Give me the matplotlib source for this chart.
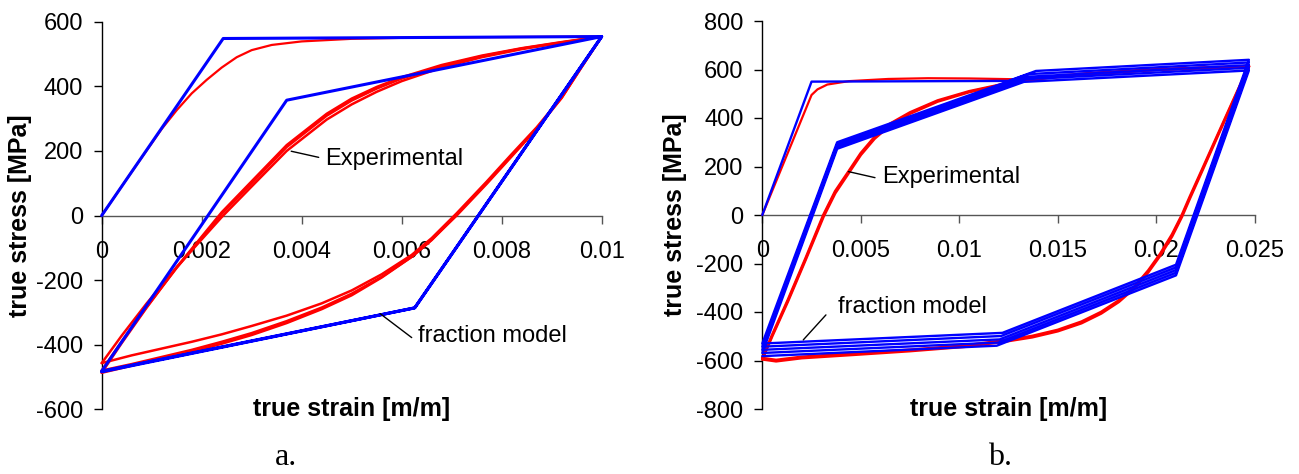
import matplotlib
matplotlib.use("Agg")
import matplotlib.pyplot as plt

plt.rcParams['font.family'] = ['Liberation Sans', 'DejaVu Sans']
plt.rcParams['axes.unicode_minus'] = False

# ---------------- Panel a data ----------------
a_x_ticks = [0, 0.002, 0.004, 0.006, 0.008, 0.01]
a_x_labels = ["0", "0.002", "0.004", "0.006", "0.008", "0.01"]
a_y_ticks = [-600, -400, -200, 0, 200, 400, 600]
a_y_labels = ["-600", "-400", "-200", "0", "200", "400", "600"]

# fraction model (blue) path vertices
a_model_strain = [0, 0.00243, 0.01, 0.00626, 0, 0.0037, 0.01, 0.00626, 0]
a_model_stress = [0, 548, 554, -286, -482, 357, 554, -286, -484]

# experimental (red) curves
a_exp_load_strain = [0, 0.0006, 0.0012, 0.0015, 0.0018, 0.0021, 0.0024, 0.0027, 0.003, 0.0034,
                     0.004, 0.005, 0.006, 0.0075, 0.01]
a_exp_load_stress = [0, 135, 268, 326, 378, 420, 458, 490, 512, 528,
                     539, 547, 550, 552, 554]

a_exp_unload_strain = [0.01, 0.0096, 0.0092, 0.0087, 0.0082, 0.0077, 0.0071, 0.0066, 0.0062, 0.0056,
                       0.005, 0.0044, 0.0037, 0.003, 0.0024, 0.0018, 0.0012, 0.0006, 0]
a_exp_unload1_stress = [554, 462, 367, 273, 190, 105, 7, -70, -122, -182,
                        -232, -272, -310, -342, -368, -391, -412, -433, -457]
a_exp_unload2_stress = [554, 460, 365, 270, 186, 101, 3, -76, -128, -190,
                        -242, -285, -327, -364, -391, -416, -438, -460, -480]
a_exp_unload3_stress = [554, 460, 364, 268, 183, 98, 0, -75, -128, -192,
                        -247, -290, -333, -370, -397, -422, -444, -465, -487]

a_exp_reload_strain = [0, 0.0004, 0.0009, 0.0015, 0.0024, 0.003, 0.0037, 0.0045, 0.005, 0.0055,
                       0.006, 0.0068, 0.0076, 0.0084, 0.0092, 0.01]
a_exp_reload1_stress = [-457, -372, -272, -160, -5, 90, 200, 297, 344, 383,
                        416, 458, 490, 515, 535, 554]
a_exp_reload2_stress = [-480, -390, -283, -162, 5, 100, 212, 309, 356, 393,
                        424, 463, 493, 517, 536, 554]
a_exp_reload3_stress = [-487, -395, -285, -160, 10, 106, 218, 315, 362, 398,
                        428, 466, 495, 518, 537, 554]

# ---------------- Panel b data ----------------
b_x_ticks = [0, 0.005, 0.01, 0.015, 0.02, 0.025]
b_x_labels = ["0", "0.005", "0.01", "0.015", "0.02", "0.025"]
b_y_ticks = [-800, -600, -400, -200, 0, 200, 400, 600, 800]
b_y_labels = ["-800", "-600", "-400", "-200", "0", "200", "400", "600", "800"]

b_model_strain = [0, 0.0025, 0.0125, 0.01389, 0.0247,
                  0.0210, 0.01219, 0,
                  0.0038, 0.01352, 0.0247,
                  0.0210, 0.01212, 0,
                  0.0038, 0.01344, 0.0247,
                  0.0210, 0.01205, 0,
                  0.0038, 0.01336, 0.0247,
                  0.0210, 0.01198, 0,
                  0.0038, 0.01328, 0.0247,
                  0.0210, 0.01190, 0]
b_model_stress = [0, 550, 553, 594, 640,
                  -205, -486, -530,
                  300, 581, 629,
                  -216, -499, -543,
                  291, 570, 618,
                  -227, -513, -556,
                  282, 560, 607,
                  -238, -526, -569,
                  273, 549, 596,
                  -249, -539, -582]

b_exp_load_strain = [0, 0.0025, 0.0028, 0.0033, 0.0044, 0.0064, 0.0084, 0.0105, 0.0127, 0.0145,
                     0.0166, 0.02, 0.0247]
b_exp_load_stress = [0, 495, 518, 538, 552, 561, 564, 563, 560, 570,
                     586, 601, 615]

b_exp_unload_strain = [0.0247, 0.0239, 0.0231, 0.0223, 0.0217, 0.0213, 0.0208, 0.0202, 0.0196, 0.0189,
                       0.0181, 0.0172, 0.0162, 0.015, 0.0137, 0.0123, 0.0103, 0.0075, 0.0047, 0.002,
                       0.0007, 0]
b_exp_unload1_stress = [615, 472, 328, 183, 75, 0, -80, -160, -228, -295,
                        -352, -400, -440, -474, -499, -517, -538, -556, -570, -585,
                        -598, -590]
b_exp_unload2_stress = [612, 468, 323, 177, 68, -7, -88, -167, -235, -301,
                        -358, -406, -446, -479, -504, -522, -543, -561, -576, -590,
                        -603, -595]

b_exp_reload_strain = [0, 0.0005, 0.0013, 0.0022, 0.0031, 0.0037, 0.0044, 0.005, 0.0057, 0.0065,
                       0.0075, 0.0089, 0.0105, 0.0127, 0.0145, 0.0166, 0.02, 0.0247]
b_exp_reload1_stress = [-590, -495, -350, -178, 0, 98, 182, 255, 322, 377,
                        423, 472, 510, 548, 567, 582, 600, 612]
b_exp_reload2_stress = [-595, -500, -356, -184, -8, 90, 175, 248, 315, 371,
                        418, 468, 507, 546, 566, 581, 599, 612]

# annotation anchors (data coords): leader tip, leader end, text position
a_exp_note = [(0.00379, 199), (0.00434, 180), (0.00446, 175)]
a_mod_note = [(0.00557, -304), (0.00620, -378), (0.00632, -374)]
b_exp_note = [(0.00437, 179), (0.00572, 154), (0.00609, 155)]
b_mod_note = [(0.00208, -515), (0.00323, -412), (0.00383, -381)]

RED = "#FF0000"
BLUE = "#0000FF"

W, H = 1299, 474
fig = plt.figure(figsize=(W / 100, H / 100), dpi=100)
axa = fig.add_axes([101.7 / W, 1 - 409.3 / H, 500 / W, 387.6 / H])
axb = fig.add_axes([762.3 / W, 1 - 409.0 / H, 492.5 / W, 388.0 / H])


def style(ax, xt, xl, yt, yl, xlim, ylim, ylab_x):
    ax.set_xlim(*xlim)
    ax.set_ylim(*ylim)
    for s in ("top", "right"):
        ax.spines[s].set_visible(False)
    ax.spines["bottom"].set_position(("data", 0))
    ax.spines["bottom"].set_color("#555555")
    ax.spines["left"].set_color("#000000")
    ax.spines["bottom"].set_linewidth(1.0)
    ax.spines["left"].set_linewidth(1.0)
    ax.set_xticks(xt)
    ax.set_xticklabels(xl)
    ax.set_yticks(yt)
    ax.set_yticklabels(yl)
    ax.tick_params(axis="x", direction="out", length=6, width=1, color="#555555",
                   labelsize=17, pad=12)
    ax.tick_params(axis="y", direction="out", length=5.5, width=1, color="#000000",
                   labelsize=17, pad=8)
    ax.set_xlabel("true strain [m/m]", fontsize=18, fontweight="bold")
    ax.xaxis.set_label_coords(0.5, 0.0)
    ax.xaxis.label.set_va("center")
    ax.set_ylabel("true stress [MPa]", fontsize=18, fontweight="bold")
    ax.yaxis.set_label_coords(ylab_x, 0.5)
    ax.yaxis.label.set_va("center")
    ax.yaxis.label.set_ha("center")


def note(ax, pts, text):
    tip, end, pos = pts
    ax.annotate("", xy=tip, xytext=end,
                arrowprops=dict(arrowstyle="-", color="black", lw=1.0,
                                shrinkA=0, shrinkB=0))
    ax.text(pos[0], pos[1], text, fontsize=17, ha="left", va="center", color="black")


kw = dict(clip_on=False, zorder=3, solid_joinstyle="round", solid_capstyle="round")

# ---- panel a ----
style(axa, a_x_ticks, a_x_labels, a_y_ticks, a_y_labels, (0, 0.01), (-600, 600), -0.163)
axa.plot(a_exp_load_strain, a_exp_load_stress, color=RED, lw=1.6, **kw)
for s in (a_exp_unload1_stress, a_exp_unload2_stress, a_exp_unload3_stress):
    axa.plot(a_exp_unload_strain, s, color=RED, lw=1.8, **kw)
for s in (a_exp_reload1_stress, a_exp_reload2_stress, a_exp_reload3_stress):
    axa.plot(a_exp_reload_strain, s, color=RED, lw=1.8, **kw)
axa.plot(a_model_strain, a_model_stress, color=BLUE, lw=2.2, **kw)
note(axa, a_exp_note, "Experimental")
note(axa, a_mod_note, "fraction model")

# ---- panel b ----
style(axb, b_x_ticks, b_x_labels, b_y_ticks, b_y_labels, (0, 0.025), (-800, 800), -0.178)
axb.plot(b_exp_load_strain, b_exp_load_stress, color=RED, lw=1.6, **kw)
for s in (b_exp_unload1_stress, b_exp_unload2_stress):
    axb.plot(b_exp_unload_strain, s, color=RED, lw=2.0, **kw)
for s in (b_exp_reload1_stress, b_exp_reload2_stress):
    axb.plot(b_exp_reload_strain, s, color=RED, lw=2.0, **kw)
axb.plot(b_model_strain, b_model_stress, color=BLUE, lw=1.7, **kw)
note(axb, b_exp_note, "Experimental")
note(axb, b_mod_note, "fraction model")

# captions
fig.text(286 / W, 2 / H, "a.", ha="center", va="bottom",
         fontsize=23, family=["Liberation Serif", "DejaVu Serif"])
fig.text(1000 / W, 2 / H, "b.", ha="center", va="bottom",
         fontsize=23, family=["Liberation Serif", "DejaVu Serif"])

fig.savefig("out.png", dpi=100)
